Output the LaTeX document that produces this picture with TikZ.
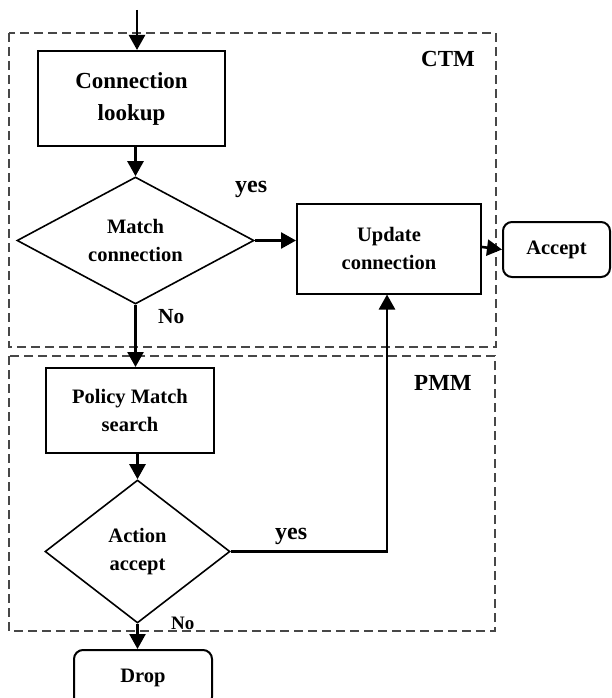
\documentclass[tikz,border=0pt]{standalone}
\usepackage{fontspec}
\setmainfont{Liberation Serif}
\usetikzlibrary{shapes.geometric,arrows.meta}
\begin{document}
\begin{tikzpicture}[x=1pt,y=-1pt,
  box/.style={draw,line width=2pt,inner sep=0pt,align=center,
    font=\bfseries\fontsize{20.5}{28}\selectfont},
  rbox/.style={box,rounded corners=9pt},
  dec/.style={draw,diamond,line width=1.6pt,inner sep=0pt,align=center,
    font=\bfseries\fontsize{20.5}{28}\selectfont},
  region/.style={draw=black!72,line width=1.2pt,dash pattern=on 9pt off 5pt},
  flow/.style={line width=2.6pt,-{Triangle[length=15pt,width=16pt]}},
  lbl/.style={font=\bfseries\fontsize{#1}{#1}\selectfont,anchor=base west,inner sep=0pt},
]
\clip (0,0) rectangle (611,698);
\useasboundingbox (0,0) rectangle (611,698);
% regions
\draw[region] (9,33) rectangle (496,347);
\draw[region] (9,356) rectangle (495,631);
\node[lbl=23] (ctmlbl) at (421,67) {CTM};
\node[lbl=23] (pmmlbl) at (414,390) {PMM};
% nodes
\node[box,minimum width=187pt,minimum height=95pt,font=\bfseries\fontsize{23}{32}\selectfont]
  (lookup) at (131.5,98.5) {Connection\\lookup};
\node[dec,minimum width=237pt,minimum height=127pt,aspect=1.87] (match) at (135.5,240.5) {Match\\connection};
\node[box,minimum width=184pt,minimum height=90pt] (update) at (389,248.5) {Update\\connection};
\node[rbox,minimum width=107pt,minimum height=55pt] (accept) at (556.5,249.5) {Accept};
\node[box,minimum width=168pt,minimum height=85pt] (policy) at (130,410.5) {Policy Match\\search};
\node[dec,minimum width=185pt,minimum height=143pt,aspect=1.3] (action) at (137.5,551.5) {Action\\accept};
\node[rbox,minimum width=138pt,minimum height=56pt] (drop) at (143,678) {Drop};
\coordinate (start) at (137,10);
% labels
\node[lbl=24] (yes1) at (235,192) {yes};
\node[lbl=24] (yes2) at (275,539) {yes};
\node[lbl=21.5] (no1) at (158,323) {No};
\node[lbl=19] (no2) at (171,629) {No};
% connectors
\draw[flow] (start) -- (start |- lookup.north);
\draw[flow] (lookup.south -| match.north) -- (match.north);
\draw[flow] (match.east) -- (update.west |- match.east);
\draw[flow] ([yshift=1.5pt]update.east) -- (accept.west);
\draw[flow] (match.south) -- (match.south |- policy.north);
\draw[flow] (policy.south -| action.north) -- (action.north);
\draw[flow] (action.east) -| ([xshift=-2pt]update.south);
\draw[flow] (action.south) -- (action.south |- drop.north);
\end{tikzpicture}
\end{document}
